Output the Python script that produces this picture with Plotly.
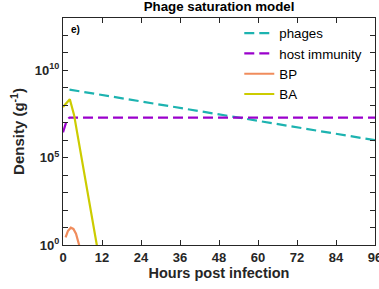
import plotly.graph_objects as go

# Data (log10 densities)
phage_t = [2, 96]
phage_v = [8.9, 6.0]
immun_t = [0, 0.5, 1, 1.5, 2, 96]
immun_v = [6.45, 6.8, 7.05, 7.22, 7.3, 7.3]
bp_t = [0.8, 1.5, 2.4, 3.2, 4, 5, 6]
bp_v = [0.44, 0.8, 0.99, 0.92, 0.65, 0.0, -0.7]
ba_t = [0, 1, 2.1, 3.4, 5, 7, 9, 10.4, 12]
ba_v = [7.9, 8.1, 8.35, 7.45, 5.75, 3.6, 1.5, 0.0, -1.7]
xticks = list(range(0, 97, 12))
yticks_major = [0, 5, 10]

font_c = "#262626"
fam = "Liberation Sans, Arial, sans-serif"

fig = go.Figure()
fig.add_trace(go.Scatter(x=phage_t, y=[10**v for v in phage_v], mode="lines", name="phages",
                         line=dict(color="#1db3b0", width=2.2, dash="10px,5px")))
fig.add_trace(go.Scatter(x=immun_t, y=[10**v for v in immun_v], mode="lines", name="host immunity",
                         line=dict(color="#9a00cc", width=2.2, dash="10px,5px")))
fig.add_trace(go.Scatter(x=bp_t, y=[10**v for v in bp_v], mode="lines", name="BP",
                         line=dict(color="#f08c5c", width=2.2)))
fig.add_trace(go.Scatter(x=ba_t, y=[10**v for v in ba_v], mode="lines", name="BA",
                         line=dict(color="#cccc00", width=2.2)))

fig.update_layout(
    width=379, height=289,
    margin=dict(l=63, r=4, t=18, b=44, autoexpand=False),
    plot_bgcolor="white", paper_bgcolor="white",
    font=dict(family=fam, color=font_c, size=12),
    title=dict(text="<b>Phage saturation model</b>", x=0.578, xanchor="center", y=0.995, yanchor="top",
               font=dict(size=13.3, color="black")),
    legend=dict(x=0.565, y=1.0, xanchor="left", yanchor="top", bgcolor="rgba(0,0,0,0)",
                font=dict(size=13.3, color="black"), tracegroupgap=0, itemwidth=30),
    showlegend=True,
)
fig.update_xaxes(range=[0, 96], tickvals=xticks, ticktext=["<b>%d</b>" % v for v in xticks],
                 ticks="inside", ticklen=5, tickcolor=font_c, showline=True, linecolor=font_c,
                 linewidth=1, mirror="ticks", showgrid=False, zeroline=False, automargin=False,
                 ticklabeloverflow="allow", ticklabelstandoff=0,
                 tickfont=dict(size=13, family=fam, color=font_c),
                 title=dict(text="<b>Hours post infection</b>", font=dict(size=14.5, color=font_c), standoff=3))
fig.update_yaxes(type="log", range=[0, 13], tickvals=[10**v for v in yticks_major],
                 ticktext=["<b>10<sup>%d</sup></b>" % v for v in yticks_major],
                 ticks="inside", ticklen=5, tickcolor=font_c, showline=True, linecolor=font_c,
                 linewidth=1, mirror="ticks", showgrid=False, zeroline=False, automargin=False,
                 minor=dict(tickvals=[10**v for v in range(0, 14)], ticks="inside", ticklen=5, tickcolor=font_c),
                 tickfont=dict(size=13, family=fam, color=font_c),
                 title=dict(text="<b>Density (g<sup>-1</sup>)</b>", font=dict(size=15, color=font_c), standoff=6))
fig.add_annotation(text="<b>e)</b>", xref="paper", yref="paper", x=0.02, y=0.95, xanchor="left",
                   yanchor="middle", showarrow=False, font=dict(size=10, color="black"))
fig.write_html("out.html", config={"displayModeBar": False},
               post_script="document.body.style.margin='0';")
